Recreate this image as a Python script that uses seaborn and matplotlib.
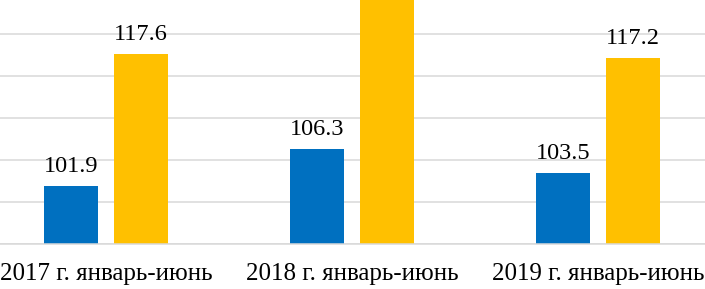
import pandas as pd
import numpy as np
import matplotlib.pyplot as plt
import seaborn as sns

# Data
categories = ['2017 г. январь-июнь', '2018 г. январь-июнь', '2019 г. январь-июнь']
series_names = ['s1', 's2']
blue_values = [101.9, 106.3, 103.5]
yellow_values = [117.6, 127.0, 117.2]   # 2018 bar runs off the top, value not visible
colors = ['#0070C0', '#FFC000']

df = pd.DataFrame({
    'category': categories * 2,
    'series': [series_names[0]] * 3 + [series_names[1]] * 3,
    'value': blue_values + yellow_values,
})

sns.set_style("white")
plt.rcParams['font.family'] = ['Liberation Serif', 'DejaVu Serif']

fig = plt.figure(figsize=(7.05, 2.89), dpi=100)
# axes deliberately wider/taller than the figure (the reference is cropped)
ax = fig.add_axes([-17 / 705, 45 / 289, 738 / 705, 252 / 289])

sns.barplot(data=df, x='category', y='value', hue='series', palette=colors,
            width=0.568, gap=0.225, saturation=1, linewidth=0,
            legend=False, ax=ax)

ymax = 125
ax.set_ylim(95, ymax)
ax.set_yticks([95, 100, 105, 110, 115, 120, 125])
ax.yaxis.grid(True, color='#D9D9D9', linewidth=1.1)
ax.set_axisbelow(True)
ax.set_yticklabels([])
ax.tick_params(axis='y', length=0)
ax.tick_params(axis='x', length=0, pad=14, labelsize=18, labelcolor='black')
ax.set_xlabel('')
ax.set_ylabel('')
for s in ['top', 'left', 'right']:
    ax.spines[s].set_visible(False)
ax.spines['bottom'].set_color('#D9D9D9')
ax.spines['bottom'].set_linewidth(1.1)

for container in ax.containers:
    for bar in container:
        h = bar.get_height()
        if h > ymax:
            continue  # label lies outside the cropped picture
        ax.annotate(f'{h:.1f}', (bar.get_x() + bar.get_width() / 2, h),
                    xytext=(0, 10), textcoords='offset points',
                    ha='center', va='baseline', fontsize=17.5, color='black')

plt.savefig('out.png', dpi=100)
plt.close()
